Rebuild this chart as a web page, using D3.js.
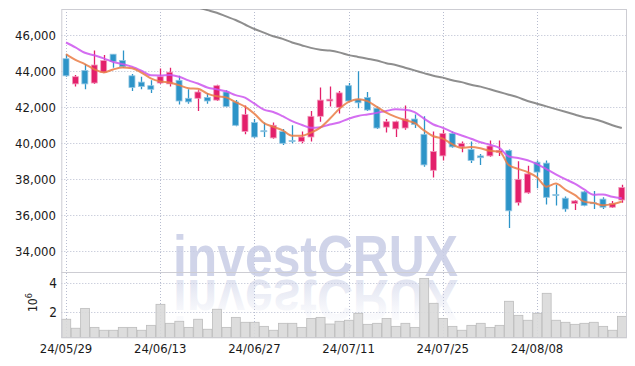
<!DOCTYPE html>
<html>
<head>
<meta charset="utf-8">
<script src="https://cdn.jsdelivr.net/npm/d3@7"></script>
<style>
body { margin: 0; background: #fff; }
svg { display: block; }
</style>
</head>
<body>
<div id="chart"></div>
<script>
// trading days shown on the chart
var dates = ["24/05/29","24/05/30","24/05/31","24/06/03","24/06/04","24/06/05","24/06/07","24/06/10","24/06/11","24/06/12",
  "24/06/13","24/06/14","24/06/17","24/06/18","24/06/19","24/06/20","24/06/21","24/06/24","24/06/25","24/06/26",
  "24/06/27","24/06/28","24/07/01","24/07/02","24/07/03","24/07/04","24/07/05","24/07/08","24/07/09","24/07/10",
  "24/07/11","24/07/12","24/07/15","24/07/16","24/07/17","24/07/18","24/07/19","24/07/22","24/07/23","24/07/24",
  "24/07/25","24/07/26","24/07/29","24/07/30","24/07/31","24/08/01","24/08/02","24/08/05","24/08/06","24/08/07",
  "24/08/08","24/08/09","24/08/12","24/08/13","24/08/14","24/08/16","24/08/19","24/08/20","24/08/21","24/08/22"];

var open = [44700,43300,44050,43350,43950,44950,44600,43750,43400,43200,
  43350,43300,43500,42500,42500,42550,42400,42850,42300,40650,
  41150,40700,40300,40650,40150,40100,40350,41500,42350,42000,
  43200,42450,42550,41950,40900,40800,40850,41350,40500,38500,
  39300,40550,39800,39650,39300,39300,39500,39600,36700,37250,
  38950,38900,37150,36950,36650,37300,36700,36900,36450,36850];
var high = [44950,43800,44400,45150,44900,44950,45150,43850,43700,43500,
  44150,44200,43750,43000,42950,42800,43250,42950,42400,42100,
  41350,41150,41150,40800,41000,40650,41800,43100,43150,42900,
  43350,44000,42850,42050,41350,41250,42100,41600,41500,40650,
  40750,40650,40100,40100,39400,40150,40150,39650,39000,38750,
  39050,39050,37700,37050,36850,37350,37350,37000,36800,37700];
var low = [43700,43150,43000,43300,43900,44200,44200,42900,43000,42800,
  43300,43150,42150,42200,41800,42200,42350,42000,40950,40500,
  40300,40350,40250,39900,40000,40000,40100,41200,42050,41650,
  42300,41950,41800,40800,40600,40350,40750,40850,38700,38100,
  39050,39750,39500,38900,38800,39250,39300,35300,36550,37200,
  37500,36600,36550,36200,36300,36500,36350,36350,36400,36700];
var close = [43750,43700,43300,44350,44600,44550,44250,43100,43150,43000,
  43700,43950,42350,42300,42850,42350,43200,42050,41000,41600,
  40350,40650,41000,40000,40100,40350,41500,42400,42450,42800,
  42350,42250,41850,40850,41200,41200,41350,41050,38800,39550,
  40550,39800,40000,39050,39200,39850,39600,36250,38000,38300,
  38400,37000,37100,36350,36800,36550,36650,36450,36650,37550];

var volume = [1480000,860000,2230000,920000,720000,720000,920000,920000,720000,1060000,
  2510000,1200000,1340000,920000,1480000,790000,2170000,920000,1610000,1270000,
  1270000,990000,720000,1200000,1200000,920000,1540000,1610000,1150000,1340000,
  1410000,1890000,1130000,1200000,1540000,990000,1200000,920000,4300000,2580000,
  1540000,990000,720000,1060000,1200000,920000,1060000,2720000,1750000,1410000,
  1890000,3270000,1410000,1270000,1130000,1200000,1270000,990000,720000,1680000];

// moving average lines
var ma5 = [44950,44630,44400,44110,43940,44100,44210,44170,43930,43610,
  43440,43380,43230,43060,43030,42760,42610,42550,42290,42040,
  41640,41130,40920,40720,40420,40420,40590,40870,41360,41900,
  42300,42450,42340,42020,41700,41470,41290,41130,40720,40390,
  40260,39950,39740,39790,39720,39580,39540,38790,38580,38400,
  38110,37590,37760,37430,37130,36760,36690,36560,36620,36770];
var ma10 = [45600,45330,45030,44890,44720,44520,44400,44250,44030,43775,
  43770,43795,43700,43495,43320,43100,42995,42890,42675,42535,
  42200,41870,41735,41505,41230,41030,40860,40895,41040,41160,
  41360,41520,41605,41690,41800,41885,41870,41735,41370,41045,
  40865,40620,40435,40255,40055,39920,39745,39265,39185,39060,
  38845,38565,38275,38005,37765,37435,37140,37160,37025,36950];
var ma60 = [null,null,null,null,null,null,null,null,null,null,
  null,null,47900,47700,47550,47400,47250,47050,46850,46600,
  46350,46150,45950,45800,45600,45450,45300,45200,45150,45050,
  44900,44800,44700,44600,44450,44350,44200,44050,43900,43750,
  43650,43500,43400,43250,43150,43000,42850,42700,42550,42350,
  42200,42050,41900,41750,41600,41450,41350,41200,41000,40850];

var priceTicks = [34000, 36000, 38000, 40000, 42000, 44000, 46000];
var volumeTicks = [2000000, 4000000];
var dateTicks = ["24/05/29", "24/06/13", "24/06/27", "24/07/11", "24/07/25", "24/08/08"];

var W = 635, H = 366;
var left = 61.3, right = 626.5;
var priceTop = 9, priceBottom = 272, volBottom = 337.7;

var upColor = "#e3206b", downColor = "#2d94c8";
var font = "'DejaVu Sans Condensed', 'DejaVu Sans', sans-serif";

var svg = d3.select("#chart").append("svg")
  .attr("width", W)
  .attr("height", H);

var x = d3.scaleBand()
  .domain(dates)
  .range([left, right])
  .padding(0);
function cx(d) { return x(d) + x.bandwidth() / 2; }

var y = d3.scaleLinear()
  .domain([32850, 47461])
  .range([priceBottom, priceTop]);

var yVol = d3.scaleLinear()
  .domain([207000, 4740000])
  .range([volBottom, priceBottom]);

var defs = svg.append("defs");
defs.append("clipPath").attr("id", "priceClip")
  .append("rect")
  .attr("x", left).attr("y", priceTop)
  .attr("width", right - left).attr("height", priceBottom - priceTop);

var grad = defs.append("linearGradient")
  .attr("id", "reflectGrad")
  .attr("x1", 0).attr("y1", 0).attr("x2", 0).attr("y2", 1);
grad.append("stop").attr("offset", "0").attr("stop-color", "#c8cde5").attr("stop-opacity", 0.0);
grad.append("stop").attr("offset", "0.35").attr("stop-color", "#c8cde5").attr("stop-opacity", 0.15);
grad.append("stop").attr("offset", "1").attr("stop-color", "#c8cde5").attr("stop-opacity", 0.7);

// grid lines
var grid = svg.append("g");
grid.selectAll(".hgrid")
  .data(priceTicks)
  .enter().append("line")
    .attr("x1", left).attr("x2", right)
    .attr("y1", d => Math.round(y(d)) + 0.5)
    .attr("y2", d => Math.round(y(d)) + 0.5)
    .attr("stroke", "#b7bccf")
    .attr("stroke-dasharray", "1,2");
grid.selectAll(".vgrid")
  .data(volumeTicks)
  .enter().append("line")
    .attr("x1", left).attr("x2", right)
    .attr("y1", d => Math.round(yVol(d)) + 0.5)
    .attr("y2", d => Math.round(yVol(d)) + 0.5)
    .attr("stroke", "#b7bccf")
    .attr("stroke-dasharray", "1,2");
grid.selectAll(".xgrid")
  .data(dateTicks)
  .enter().append("line")
    .attr("x1", d => Math.round(cx(d)) + 0.5)
    .attr("x2", d => Math.round(cx(d)) + 0.5)
    .attr("y1", priceTop).attr("y2", volBottom)
    .attr("stroke", "#b7bccf")
    .attr("stroke-dasharray", "1,2");

// watermark and its reflection
svg.append("text")
  .attr("x", 173).attr("y", 276)
  .attr("textLength", 285)
  .attr("lengthAdjust", "spacingAndGlyphs")
  .attr("font-family", "'Liberation Sans', Arial, sans-serif")
  .attr("font-weight", "bold")
  .attr("font-size", 58)
  .attr("fill", "#c8cde5")
  .attr("fill-opacity", 0.85)
  .text("investCRUX");
svg.append("text")
  .attr("x", 173).attr("y", 276)
  .attr("transform", "translate(0," + (2 * 278) + ") scale(1,-1)")
  .attr("textLength", 285)
  .attr("lengthAdjust", "spacingAndGlyphs")
  .attr("font-family", "'Liberation Sans', Arial, sans-serif")
  .attr("font-weight", "bold")
  .attr("font-size", 58)
  .attr("fill", "url(#reflectGrad)")
  .text("investCRUX");

// volume bars
svg.append("g")
  .selectAll("rect")
  .data(dates)
  .enter().append("rect")
    .attr("x", d => x(d) + 0.5)
    .attr("y", (d, i) => yVol(volume[i]))
    .attr("width", x.bandwidth() - 0.5)
    .attr("height", (d, i) => volBottom - yVol(volume[i]))
    .attr("fill", "#d9d9d9")
    .attr("fill-opacity", 0.9)
    .attr("stroke", "#bcbcbc")
    .attr("stroke-width", 0.8);

// frame
svg.append("rect")
  .attr("x", left + 0.5).attr("y", priceTop + 0.5)
  .attr("width", right - left - 0.5).attr("height", volBottom - priceTop - 0.5)
  .attr("fill", "none")
  .attr("stroke", "#cdcdd3");
svg.append("line")
  .attr("x1", left).attr("x2", right)
  .attr("y1", priceBottom + 0.5).attr("y2", priceBottom + 0.5)
  .attr("stroke", "#cdcdd3");

// candles
var plot = svg.append("g").attr("clip-path", "url(#priceClip)");
var candles = plot.selectAll(".candle")
  .data(dates)
  .enter().append("g");
candles.append("line")
  .attr("x1", d => Math.round(cx(d)) + 0.5)
  .attr("x2", d => Math.round(cx(d)) + 0.5)
  .attr("y1", (d, i) => y(high[i]))
  .attr("y2", (d, i) => y(low[i]))
  .attr("stroke", (d, i) => close[i] >= open[i] ? upColor : downColor)
  .attr("stroke-width", 1.3);
candles.append("rect")
  .attr("x", d => cx(d) - 3)
  .attr("y", (d, i) => y(Math.max(open[i], close[i])))
  .attr("width", 6)
  .attr("height", (d, i) => Math.max(1, Math.abs(y(open[i]) - y(close[i]))))
  .attr("fill", (d, i) => close[i] >= open[i] ? upColor : downColor)
  .attr("stroke", (d, i) => close[i] >= open[i] ? "#f29bbd" : "#93c6e3")
  .attr("stroke-width", 0.8);

// moving averages
function maLine(values, color, width) {
  var line = d3.line()
    .defined(d => d[1] != null)
    .x(d => cx(d[0]))
    .y(d => y(d[1]))
    .curve(d3.curveMonotoneX);
  plot.append("path")
    .datum(dates.map((d, i) => [d, values[i]]))
    .attr("d", line)
    .attr("fill", "none")
    .attr("stroke", color)
    .attr("stroke-width", width)
    .attr("stroke-opacity", 0.85);
}
maLine(ma60, "#7a7a7a", 2);
maLine(ma10, "#cc55ee", 2);
maLine(ma5, "#ea7d45", 2);

// price axis labels
svg.append("g")
  .selectAll("text")
  .data(priceTicks)
  .enter().append("text")
    .attr("x", 56)
    .attr("y", d => y(d))
    .attr("dy", "0.38em")
    .attr("text-anchor", "end")
    .attr("font-family", font)
    .attr("font-size", 13)
    .attr("fill", "#1a1a1a")
    .text(d => d3.format(",")(d));

// volume axis labels
svg.append("g")
  .selectAll("text")
  .data(volumeTicks)
  .enter().append("text")
    .attr("x", 57)
    .attr("y", d => yVol(d))
    .attr("dy", "0.38em")
    .attr("text-anchor", "end")
    .attr("font-family", font)
    .attr("font-size", 13.5)
    .attr("fill", "#1a1a1a")
    .text(d => d / 1000000);

var unit = svg.append("text")
  .attr("transform", "translate(37,312) rotate(-90)")
  .attr("font-family", font)
  .attr("font-size", 12)
  .attr("fill", "#222");
unit.append("tspan").text("10");
unit.append("tspan").attr("dy", -5).attr("font-size", 9).text("6");

// date labels
svg.append("g")
  .selectAll("text")
  .data(dateTicks)
  .enter().append("text")
    .attr("x", d => cx(d))
    .attr("y", 353)
    .attr("text-anchor", "middle")
    .attr("font-family", font)
    .attr("font-size", 13)
    .attr("fill", "#1a1a1a")
    .text(d => d);
</script>
</body>
</html>
